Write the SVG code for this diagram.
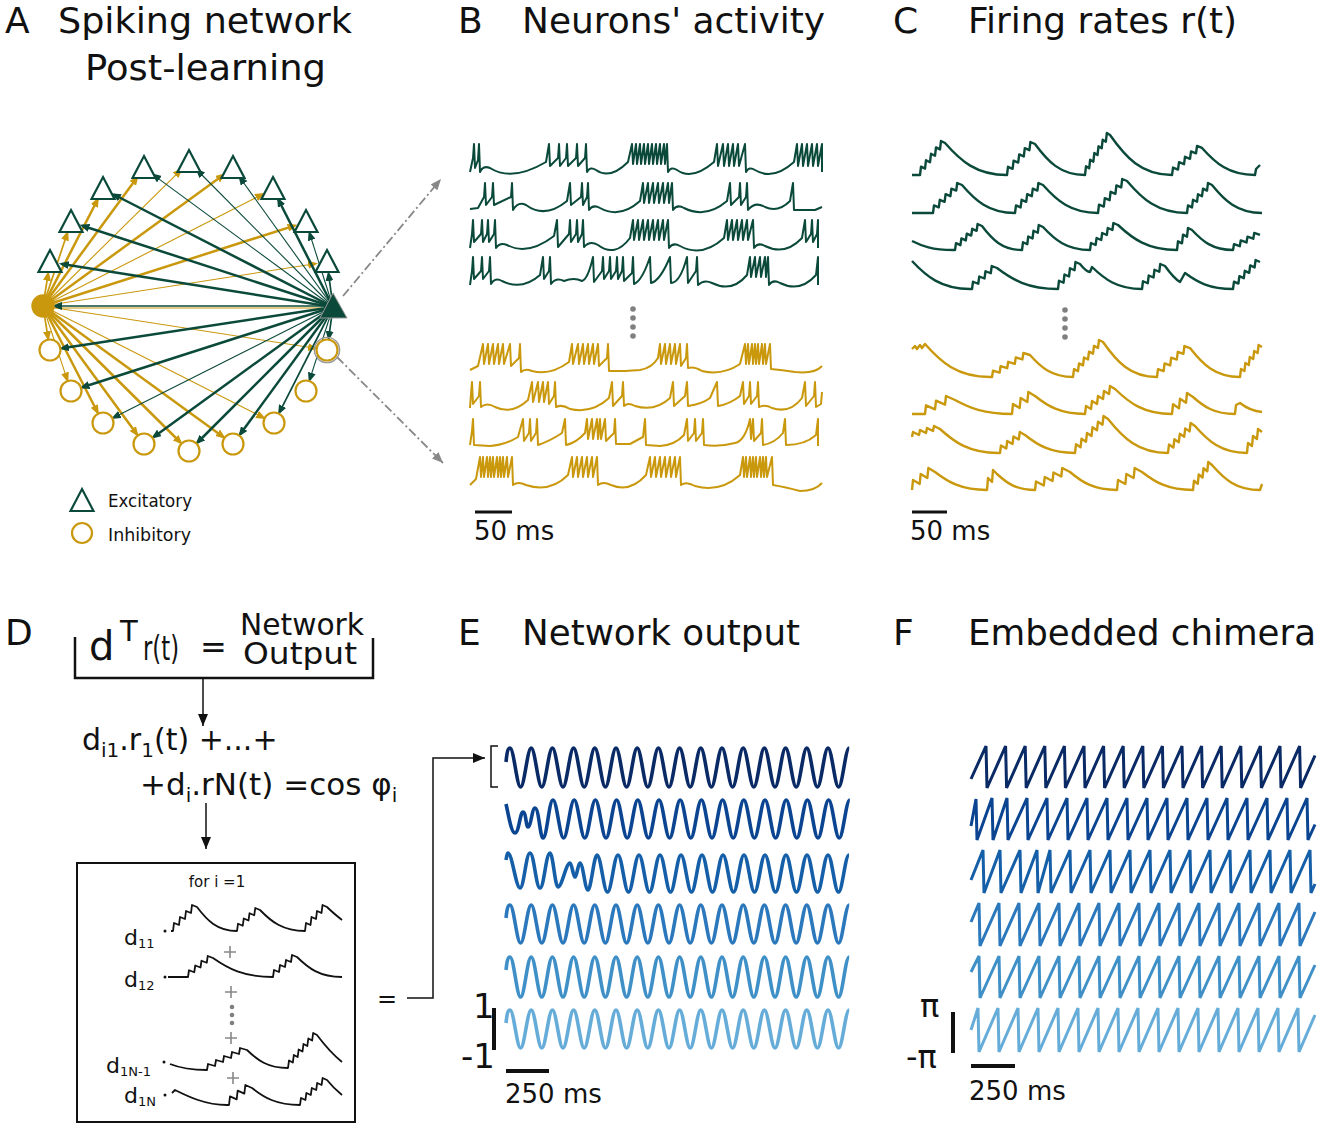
<svg xmlns="http://www.w3.org/2000/svg" width="1319" height="1127" viewBox="0 0 1319 1127">
<style>
.t{font-family:"DejaVu Sans",Verdana,sans-serif;fill:#111}
.ti{font-size:36px}
.g{stroke:#0b4a3b;fill:none}
.y{stroke:#c9980d;fill:none}
.k1{stroke-width:1.1}
.k2{stroke-width:1.7}
.k3{stroke-width:2.5}
.tri{fill:#fff;stroke:#0b4a3b;stroke-width:2.2}
.cir{fill:#fff;stroke:#c9980d;stroke-width:2.2}
.sp{fill:none;stroke-width:2;stroke-linejoin:round}
.rt{fill:none;stroke-width:2.4;stroke-linejoin:round}
.bk{fill:none;stroke:#111;stroke-width:1.8;stroke-linejoin:round}
.ew{fill:none;stroke-width:3.6}
.fw{fill:none;stroke-width:3;stroke-linejoin:miter}
.dot{fill:#808080}
</style>
<defs>
<marker id="mg" markerUnits="userSpaceOnUse" markerWidth="10" markerHeight="8" refX="7" refY="4" orient="auto"><path d="M0,0 L10,4 L0,8 Z" fill="#0b4a3b"/></marker>
<marker id="my" markerUnits="userSpaceOnUse" markerWidth="10" markerHeight="8" refX="7" refY="4" orient="auto"><path d="M0,0 L10,4 L0,8 Z" fill="#c9980d"/></marker>
<marker id="mk" markerUnits="userSpaceOnUse" markerWidth="11" markerHeight="9" refX="11" refY="4.5" orient="auto"><path d="M0,0 L11,4.5 L0,9 Z" fill="#888"/></marker>
<marker id="mb" markerUnits="userSpaceOnUse" markerWidth="12" markerHeight="10" refX="12" refY="5" orient="auto"><path d="M0,0 L12,5 L0,10 Z" fill="#111"/></marker>
<path id="tr" d="M0,-12 L11.5,10 L-11.5,10 Z"/>
</defs>

<!-- titles -->
<g class="t ti">
<text x="5" y="33">A</text><text x="58" y="33" textLength="294" lengthAdjust="spacingAndGlyphs">Spiking network</text><text x="85" y="80" textLength="241" lengthAdjust="spacingAndGlyphs">Post-learning</text>
<text x="458" y="33">B</text><text x="522" y="33" textLength="303" lengthAdjust="spacingAndGlyphs">Neurons' activity</text>
<text x="893" y="33">C</text><text x="968" y="33" textLength="269" lengthAdjust="spacingAndGlyphs">Firing rates r(t)</text>
<text x="5" y="645">D</text>
<text x="458" y="645">E</text><text x="522" y="645" textLength="278" lengthAdjust="spacingAndGlyphs">Network output</text>
<text x="893" y="645">F</text><text x="968" y="645" textLength="348" lengthAdjust="spacingAndGlyphs">Embedded chimera</text>
</g>

<!-- connectors -->
<g id="connectors">
<g class="y">
<line class="k2" x1="43" y1="306" x2="48.1" y2="273.8" marker-end="url(#my)"/>
<line class="k2" x1="43" y1="306" x2="67.2" y2="233.4" marker-end="url(#my)"/>
<line class="k3" x1="43" y1="306" x2="97.5" y2="199.7" marker-end="url(#my)"/>
<line class="k3" x1="43" y1="306" x2="136.9" y2="177.7" marker-end="url(#my)"/>
<line class="k1" x1="43" y1="306" x2="180.5" y2="170.4" marker-end="url(#my)"/>
<line class="k3" x1="43" y1="306" x2="223.3" y2="175.1" marker-end="url(#my)"/>
<line class="k1" x1="43" y1="306" x2="262.3" y2="194.4" marker-end="url(#my)"/>
<line class="k3" x1="43" y1="306" x2="294.6" y2="225.6" marker-end="url(#my)"/>
<line class="k1" x1="43" y1="306" x2="315.1" y2="263.8" marker-end="url(#my)"/>
<line class="k1" x1="43" y1="308" x2="322" y2="308"/>
<line class="k2" x1="43" y1="306" x2="48.1" y2="338.2" marker-end="url(#my)"/>
<line class="k1" x1="43" y1="306" x2="67.2" y2="379.6" marker-end="url(#my)"/>
<line class="k3" x1="43" y1="306" x2="97.5" y2="412.3" marker-end="url(#my)"/>
<line class="k3" x1="43" y1="306" x2="136.9" y2="434.3" marker-end="url(#my)"/>
<line class="k3" x1="43" y1="306" x2="180.5" y2="442.5" marker-end="url(#my)"/>
<line class="k3" x1="43" y1="306" x2="223.3" y2="436.9" marker-end="url(#my)"/>
<line class="k1" x1="43" y1="306" x2="263.3" y2="417.6" marker-end="url(#my)"/>
<line class="k1" x1="43" y1="306" x2="315.1" y2="348.2" marker-end="url(#my)"/>
</g>
<g class="g">
<line class="k3" x1="333" y1="307" x2="61.8" y2="263.9" marker-end="url(#mg)"/>
<line class="k3" x1="333" y1="307" x2="82.4" y2="225.7" marker-end="url(#mg)"/>
<line class="k3" x1="333" y1="307" x2="113.7" y2="194.5" marker-end="url(#mg)"/>
<line class="k1" x1="333" y1="307" x2="153.7" y2="175.1" marker-end="url(#mg)"/>
<line class="k1" x1="333" y1="307" x2="197.5" y2="170.5" marker-end="url(#mg)"/>
<line class="k1" x1="333" y1="307" x2="240" y2="177.7" marker-end="url(#mg)"/>
<line class="k3" x1="333" y1="307" x2="278.4" y2="199.7" marker-end="url(#mg)"/>
<line class="k1" x1="333" y1="307" x2="309.6" y2="233.4" marker-end="url(#mg)"/>
<line class="k2" x1="333" y1="307" x2="328.6" y2="273.9" marker-end="url(#mg)"/>
<line class="k2" x1="333" y1="306" x2="55" y2="306" marker-end="url(#mg)"/>
<line class="k3" x1="333" y1="307" x2="61.9" y2="348.2" marker-end="url(#mg)"/>
<line class="k3" x1="333" y1="307" x2="82.4" y2="387.3" marker-end="url(#mg)"/>
<line class="k1" x1="333" y1="307" x2="113.7" y2="417.6" marker-end="url(#mg)"/>
<line class="k3" x1="333" y1="307" x2="153.7" y2="437" marker-end="url(#mg)"/>
<line class="k3" x1="333" y1="307" x2="197.5" y2="442.5" marker-end="url(#mg)"/>
<line class="k3" x1="333" y1="307" x2="240.1" y2="434.3" marker-end="url(#mg)"/>
<line class="k2" x1="333" y1="307" x2="279.4" y2="412.3" marker-end="url(#mg)"/>
<line class="k1" x1="333" y1="307" x2="309.7" y2="379.6" marker-end="url(#mg)"/>
<line class="k2" x1="333" y1="307" x2="328.7" y2="338.1" marker-end="url(#mg)"/>
</g>
<line x1="343" y1="296" x2="441" y2="179" stroke="#888" stroke-width="1.8" stroke-dasharray="9,3,2,3" marker-end="url(#mk)"/>
<line x1="337" y1="357" x2="443" y2="463" stroke="#888" stroke-width="1.8" stroke-dasharray="9,3,2,3" marker-end="url(#mk)"/>
<line x1="203" y1="678" x2="203" y2="726" stroke="#111" stroke-width="1.5" marker-end="url(#mb)"/>
<line x1="206" y1="803" x2="206" y2="849" stroke="#111" stroke-width="1.5" marker-end="url(#mb)"/>
<path d="M407,998 H433 V758 H485" fill="none" stroke="#111" stroke-width="1.5" marker-end="url(#mb)"/>
</g>

<!-- nodes panel A -->
<g id="exc-nodes">
<g id="e1"><use href="#tr" class="tri" x="50" y="262"/></g>
<g id="e2"><use href="#tr" class="tri" x="71" y="222"/></g>
<g id="e3"><use href="#tr" class="tri" x="103" y="189"/></g>
<g id="e4"><use href="#tr" class="tri" x="144" y="168"/></g>
<g id="e5"><use href="#tr" class="tri" x="189" y="162"/></g>
<g id="e6"><use href="#tr" class="tri" x="233" y="168"/></g>
<g id="e7"><use href="#tr" class="tri" x="273" y="189"/></g>
<g id="e8"><use href="#tr" class="tri" x="306" y="222"/></g>
<g id="e9"><use href="#tr" class="tri" x="327" y="262"/></g>
<g id="e0"><path d="M333,293 L347,318 L320,318 Z" fill="#0b4a3b" stroke="#999" stroke-width="1"/></g>
</g>
<g id="inh-nodes">
<g id="i0"><circle cx="43" cy="306" r="11.7" fill="#c9980d"/></g>
<g id="i1"><circle class="cir" cx="50" cy="350" r="10.5"/></g>
<g id="i2"><circle class="cir" cx="71" cy="391" r="10.5"/></g>
<g id="i3"><circle class="cir" cx="103" cy="423" r="10.5"/></g>
<g id="i4"><circle class="cir" cx="144" cy="444" r="10.5"/></g>
<g id="i5"><circle class="cir" cx="189" cy="451" r="10.5"/></g>
<g id="i6"><circle class="cir" cx="233" cy="444" r="10.5"/></g>
<g id="i7"><circle class="cir" cx="274" cy="423" r="10.5"/></g>
<g id="i8"><circle class="cir" cx="306" cy="391" r="10.5"/></g>
<g id="i9"><circle class="cir" cx="327" cy="350" r="10.5"/><circle cx="327" cy="350" r="12.6" fill="none" stroke="#999" stroke-width="1.4"/></g>
</g>

<!-- legend -->
<g id="legend">
<path d="M82,489 L93.5,511 L70.5,511 Z" class="tri"/>
<text class="t" x="108" y="507" font-size="18" textLength="84" lengthAdjust="spacingAndGlyphs">Excitatory</text>
<circle class="cir" cx="82" cy="533" r="10"/>
<text class="t" x="108" y="541" font-size="18" textLength="83" lengthAdjust="spacingAndGlyphs">Inhibitory</text>
</g>

<!-- panel B spikes -->
<g id="panelB">
<g class="sp g">
<path transform="translate(470,144)" d="M0,28 L3,14 L4,0 L5,24 L8,16 L9,0 L10,28 Q13,21 20,24 Q42,38 76,18 L79,0 L80,22 L88,14 L89,0 L90,22 L96,14 L97,0 L98,22 L106,14 L107,0 L108,22 L115,14 L116,0 L117,28 Q120,22 126,26 Q140,36 158,18 L162,0 L163,20 L166,0 L167,20 L170,0 L171,20 L174,0 L175,20 L178,0 L179,20 L182,0 L183,20 L186,0 L187,20 L190,0 L191,20 L194,0 L195,20 L197,0 L198,28 Q201,22 207,26 Q222,37 244,18 L247,0 L248,22 L253,0 L254,22 L258,0 L259,22 L263,0 L264,22 L268,0 L269,22 L275,0 L276,28 Q279,22 285,26 Q303,37 324,18 L327,0 L328,22 L332,0 L333,22 L337,0 L338,22 L342,0 L343,22 L347,0 L348,22 L352,0 L352,28"/>
<path transform="translate(470,183)" d="M0,26 L8,25 L14,14 L15,0 L16,22 L22,14 L23,0 L24,22 L41,14 L42,0 L43,27 Q48,18 56,22 Q75,36 97,18 L100,0 L101,22 L111,14 L112,0 L113,22 L117,14 L118,0 L119,27 Q123,21 130,25 Q150,36 170,18 L173,0 L174,20 L178,0 L179,20 L183,0 L184,20 L188,0 L189,20 L193,0 L194,20 L198,0 L199,20 L202,0 L203,27 Q207,21 214,25 Q236,36 257,18 L260,0 L261,22 L269,14 L270,0 L271,22 L276,14 L277,0 L278,27 Q285,18 295,24 Q308,30 320,18 L323,0 L324,27 L345,27 L352,24"/>
<path transform="translate(470,220)" d="M0,28 L2,14 L3,0 L4,22 L11,14 L12,0 L13,22 L17,14 L18,0 L19,22 L24,14 L25,0 L26,28 Q30,22 37,25 Q58,36 84,16 L87,0 L88,27 L99,14 L100,0 L101,22 L106,14 L107,0 L108,22 L112,14 L113,0 L114,27 Q120,20 128,25 Q145,38 160,18 L163,0 L164,20 L168,0 L169,20 L173,0 L174,20 L178,0 L179,20 L183,0 L184,20 L188,0 L189,20 L193,0 L194,20 L198,0 L199,28 Q203,22 210,26 Q232,38 254,18 L257,0 L258,20 L262,0 L263,20 L267,0 L268,20 L272,0 L273,20 L277,0 L278,20 L283,0 L284,28 Q288,22 295,26 Q315,36 332,18 L335,0 L336,22 L341,14 L342,0 L343,22 L347,14 L348,0 L348,28"/>
<path transform="translate(470,257)" d="M0,28 L2,14 L3,0 L4,22 L11,14 L12,0 L13,22 L19,14 L20,0 L21,27 Q25,20 32,24 Q52,34 70,18 L73,0 L74,22 L79,14 L80,0 L81,27 Q86,20 94,24 Q104,20 112,24 Q118,22 123,0 L124,25 L132,14 L133,0 L134,22 L139,14 L140,0 L141,22 L146,14 L147,0 L148,22 L152,14 L153,0 L154,24 L162,16 L163,0 L164,27 Q172,24 180,0 L181,26 Q190,24 200,0 L201,26 Q210,26 217,0 L218,26 L226,14 L227,0 L228,28 Q234,22 242,26 Q262,36 277,18 L280,0 L281,20 L285,0 L286,20 L290,0 L291,20 L295,0 L296,20 L298,0 L299,28 Q303,22 310,26 Q330,36 346,18 L348,0 L348,28"/>
</g>
<g class="sp y">
<path transform="translate(470,344)" d="M0,26 L8,22 L13,0 L14,20 L18,0 L19,20 L23,0 L24,20 L28,0 L29,20 L33,0 L34,20 L40,0 L41,22 L49,14 L50,0 L51,28 Q55,24 62,27 Q80,32 99,18 L102,0 L103,20 L108,0 L109,20 L113,0 L114,20 L118,0 L119,20 L123,0 L124,20 L128,0 L129,22 L137,14 L138,0 L139,27 L155,27 L170,26 Q182,24 188,14 L190,0 L191,20 L195,0 L196,20 L200,0 L201,20 L205,0 L206,20 L210,0 L211,22 L216,14 L217,0 L218,24 Q224,22 232,27 Q252,32 270,20 L275,0 L276,20 L278,0 L279,20 L282,0 L283,20 L285,0 L286,20 L288,0 L289,20 L292,0 L293,20 L295,0 L296,20 L300,0 L301,25 Q312,26 325,28 Q345,30 352,22"/>
<path transform="translate(470,382)" d="M0,26 L1,12 L2,0 L3,22 L9,14 L10,0 L11,25 Q17,20 25,25 Q42,33 58,18 L62,0 L63,20 L68,0 L69,20 L73,0 L74,20 L78,0 L79,22 L84,14 L85,0 L86,25 Q92,22 100,27 Q122,32 139,16 L142,0 L143,24 L152,14 L153,0 L154,24 Q158,20 165,24 Q185,30 200,16 L203,0 L204,24 L215,14 L217,0 L218,24 Q232,22 240,16 L247,0 L248,24 Q260,22 270,14 L273,0 L274,22 L279,14 L280,0 L281,22 L287,14 L288,0 L289,25 Q295,22 302,26 Q320,32 332,16 L335,0 L336,24 L344,14 L345,0 L346,25 L351,22 L352,10"/>
<path transform="translate(470,419)" d="M0,26 L2,12 L3,0 L4,26 L20,27 Q35,26 48,18 L53,0 L54,22 L59,14 L60,0 L61,22 L66,14 L67,0 L68,26 Q80,22 92,14 L95,0 L96,26 Q106,24 115,14 L117,0 L118,20 L122,0 L123,20 L127,0 L128,20 L130,0 L131,20 L135,0 L136,22 L144,14 L145,0 L146,25 L160,25 L173,18 L175,0 L176,26 L190,27 Q205,26 214,16 L217,0 L218,22 L224,14 L225,0 L226,22 L232,14 L233,0 L234,26 Q250,28 265,24 Q275,22 280,0 L281,20 L283,0 L284,22 L291,14 L292,0 L293,26 Q305,24 313,14 L315,0 L316,26 Q335,26 346,16 L348,0 L348,27"/>
<path transform="translate(470,457)" d="M0,28 L6,22 L10,0 L11,20 L13,0 L14,20 L17,0 L18,20 L20,0 L21,20 L23,0 L24,20 L27,0 L28,20 L30,0 L31,20 L33,0 L34,20 L37,0 L38,20 L42,0 L43,28 Q48,24 56,28 Q80,36 98,18 L102,0 L103,20 L107,0 L108,20 L112,0 L113,20 L117,0 L118,20 L122,0 L123,20 L127,0 L128,28 Q133,24 141,28 Q160,36 176,18 L180,0 L181,20 L185,0 L186,20 L190,0 L191,20 L195,0 L196,20 L200,0 L201,20 L205,0 L206,20 L210,0 L211,28 Q216,24 225,29 Q250,36 270,18 L273,0 L274,20 L276,0 L277,20 L280,0 L281,20 L283,0 L284,20 L286,0 L287,20 L290,0 L291,20 L293,0 L294,20 L296,0 L297,20 L302,0 L303,28 Q315,30 330,34 Q345,34 352,26"/>
</g>
<circle class="dot" cx="633" cy="309" r="2.8"/><circle class="dot" cx="633" cy="318" r="2.8"/><circle class="dot" cx="633" cy="327" r="2.8"/><circle class="dot" cx="633" cy="336" r="2.8"/>
<line x1="475" y1="512" x2="512" y2="512" stroke="#111" stroke-width="3"/>
<text class="t" x="474" y="540" font-size="26">50 ms</text>
</g>

<!-- panel C rates -->
<g id="panelC">
<g class="rt g">
<path d="M912,175 h8 l1,-8.4 l4,2 l1,-8.4 l4,2 l1,-8.4 l4,2 l1,-8.4 l4,2 l1,-8.4 l4,2 c15.5,17.6 31,32 62,32 l1,-8.2 l4.6,2 l1,-8.2 l4.6,2 l1,-8.2 l4.6,2 l1,-8.2 l4.6,2 l1,-8.2 l4.6,2 c12.5,17 25,31 50,31 l1,-8.67 l3.17,2 l1,-8.67 l3.17,2 l1,-8.67 l3.17,2 l1,-8.67 l3.17,2 l1,-8.67 l3.17,2 l1,-8.67 l3.17,2 c15.5,22 31,40 62,40 l1,-7.4 l5,2 l1,-7.4 l5,2 l1,-7.4 l5,2 l1,-7.4 l5,2 l1,-7.4 l5,2 c13.25,14.85 26.5,27 53,27 l1,-6 l4,-4"/>
<path d="M912,213 h21 l1,-7.6 l4.8,2 l1,-7.6 l4.8,2 l1,-7.6 l4.8,2 l1,-7.6 l4.8,2 l1,-7.6 l4.8,2 c13.25,15.4 26.5,28 53,28 l1,-7.6 l4.6,2 l1,-7.6 l4.6,2 l1,-7.6 l4.6,2 l1,-7.6 l4.6,2 l1,-7.6 l4.6,2 c13.75,15.4 27.5,28 55,28 l1,-8.4 l4.8,2 l1,-8.4 l4.8,2 l1,-8.4 l4.8,2 l1,-8.4 l4.8,2 l1,-8.4 l4.8,2 c15,17.6 30,32 60,32 l1,-7.6 l4,2 l1,-7.6 l4,2 l1,-7.6 l4,2 l1,-7.6 l4,2 l1,-7.6 l4,2 c12.5,15.4 25,28 50,28"/>
<path d="M912,241 c10,5 20,9 41,9 h2 l1,-6.8 l4.4,2 l1,-6.8 l4.4,2 l1,-6.8 l4.4,2 l1,-6.8 l4.4,2 l1,-6.8 l4.4,2 c10,13.2 20,24 40,24 l1,-7.75 l4.25,2 l1,-7.75 l4.25,2 l1,-7.75 l4.25,2 l1,-7.75 l4.25,2 c11.75,12.65 23.5,23 47,23 l1,-7 l4.6,2 l1,-7 l4.6,2 l1,-7 l4.6,2 l1,-7 l4.6,2 l1,-7 l4.6,2 c14.75,13.75 29.5,25 59,25 l1,-8.67 l4,2 l1,-8.67 l4,2 l1,-8.67 l4,2 c10.25,11 20.5,20 41,20 l1,-5.75 l5.75,2 l1,-5.75 l5.75,2 l1,-5.75 l5.75,2 l1,-5.75 l5.75,2"/>
<path d="M912,261 c14,15 29,28 58,28 h2 l1,-7.25 l5.25,2 l1,-7.25 l5.25,2 l1,-7.25 l5.25,2 l1,-7.25 l5.25,2 c15.25,11.55 30.5,21 61,21 l1,-8.25 l4.5,2 l1,-8.25 l4.5,2 l1,-8.25 l4.5,2 l1,-8.25 l4.5,2 c4,5 8,8 10,8 l2,-5 c12.5,12 25,22 50,22 l1,-7.75 l4.75,2 l1,-7.75 l4.75,2 l1,-7.75 l4.75,2 l1,-7.75 l4.75,2 c5,7 10,13 15,16 l5,-9 c12,8.8 24,16 48,16 l1,-7.4 l4.4,2 l1,-7.4 l4.4,2 l1,-7.4 l4.4,2 l1,-7.4 l4.4,2 l1,-7.4 l4.4,2"/>
</g>
<g class="rt y">
<path d="M912,349 l3,-3 l2,3 l3,-4 l2,3 l3,-4 c16,18 32,33 65,33 h2 l1,-6.4 l6.6,2 l1,-6.4 l6.6,2 l1,-6.4 l6.6,2 l1,-6.4 l6.6,2 l1,-6.4 l6.6,2 c10.75,12.1 21.5,22 43,22 l1,-7.83 l4,2 l1,-7.83 l4,2 l1,-7.83 l4,2 l1,-7.83 l4,2 l1,-7.83 l4,2 l1,-7.83 l4,2 c13.5,19.25 27,35 54,35 l1,-7.8 l5.6,2 l1,-7.8 l5.6,2 l1,-7.8 l5.6,2 l1,-7.8 l5.6,2 l1,-7.8 l5.6,2 c12.5,16 25,29 50,29 l1,-8 l3.4,2 l1,-8 l3.4,2 l1,-8 l3.4,2 l1,-8 l3.4,2 l1,-8 l3.4,2"/>
<path d="M912,414 h13 l1,-8.67 l9,4 l1,-8.67 l9,4 l1,-8.67 l9,4 c14.25,7.7 28.5,14 57,14 l1,-10 l6.67,4 l1,-10 l6.67,4 l1,-10 l6.67,4 c12.5,9.9 25,18 50,18 l1,-8 l5,3 l1,-8 l5,3 l1,-8 l5,3 l1,-8 l5,3 l1,-8 l5,3 c14.25,13.75 28.5,25 57,25 l1,-9.67 l6,4 l1,-9.67 l6,4 l1,-9.67 l6,4 c10.5,9.35 21,17 42,17 l1,-9 l4,-2 c5,4 12,8 22,9"/>
<path d="M912,437 l1,-5 l6,3 l1,-5 l6,3 l1,-5 l6,3 l1,-5 l6,3 c14.5,13.2 29,24 58,24 h2 l1,-7.5 l5.25,3 l1,-7.5 l5.25,3 l1,-7.5 l5.25,3 l1,-7.5 l5.25,3 c12.5,9.9 25,18 50,18 l1,-8.67 l4.5,3 l1,-8.67 l4.5,3 l1,-8.67 l4.5,3 l1,-8.67 l4.5,3 l1,-8.67 l4.5,3 l1,-8.67 l4.5,3 c15,18.7 30,34 60,34 l1,-8.4 l4.4,3 l1,-8.4 l4.4,3 l1,-8.4 l4.4,3 l1,-8.4 l4.4,3 l1,-8.4 l4.4,3 c13,14.85 26,27 52,27 l1,-10 l4,3 l1,-10 l4,3 l1,-10 l4,3"/>
<path d="M912,490 l1,-10 l6.67,4 l1,-10 l6.67,4 l1,-10 l6.67,4 c13,9.9 26,18 52,18 l1,-12 l4,4 l1,-12 l4,4 c9.5,8.8 19,16 38,16 l1,-8.5 l7.75,4 l1,-8.5 l7.75,4 l1,-8.5 l7.75,4 l1,-8.5 l7.75,4 c11.75,9.9 23.5,18 47,18 l1,-10 l7.33,4 l1,-10 l7.33,4 l1,-10 l7.33,4 c12.75,9.9 25.5,18 51,18 l1,-9.25 l3.75,3 l1,-9.25 l3.75,3 l1,-9.25 l3.75,3 l1,-9.25 l3.75,3 c12,13.75 24,25 48,25 l2,-6"/>
</g>
<circle class="dot" cx="1065" cy="310" r="2.8"/><circle class="dot" cx="1065" cy="319" r="2.8"/><circle class="dot" cx="1065" cy="328" r="2.8"/><circle class="dot" cx="1065" cy="337" r="2.8"/>
<line x1="912" y1="512" x2="947" y2="512" stroke="#111" stroke-width="3"/>
<text class="t" x="910" y="540" font-size="26">50 ms</text>
</g>

<!-- panel D -->
<g id="panelD">
<path d="M75,637 V678 H373 V638" fill="none" stroke="#111" stroke-width="2.5"/>
<text class="t" x="89" y="660" font-size="40">d</text>
<text class="t" x="120" y="641" font-size="29">T</text>
<text class="t" x="143" y="660" font-size="34" textLength="36" lengthAdjust="spacingAndGlyphs">r(t)</text>
<text class="t" x="200" y="658" font-size="32">=</text>
<text class="t" font-size="30"><tspan x="240" y="635" textLength="124" lengthAdjust="spacingAndGlyphs">Network</tspan><tspan x="243" y="664" font-size="31" textLength="114" lengthAdjust="spacingAndGlyphs">Output</tspan></text>
<text class="t" x="82" y="750" font-size="30">d<tspan font-size="20" dy="7">i1</tspan><tspan dy="-7">.r</tspan><tspan font-size="20" dy="7">1</tspan><tspan dy="-7">(t) +...+</tspan></text>
<text class="t" x="140" y="795" font-size="31">+d<tspan font-size="20" dy="7">i</tspan><tspan dy="-7">.rN(t) =cos φ</tspan><tspan font-size="20" dy="7">i</tspan></text>
<g id="sumbox">
<rect x="77" y="863" width="278" height="259" fill="none" stroke="#111" stroke-width="2"/>
<text class="t" x="217" y="887" font-size="15" text-anchor="middle">for i =1</text>
<path class="bk" d="M171,931 h2 l1,-8 l5,2 l1,-8 l5,2 l1,-8 l5,2 l1,-8 l5,2 c10,13.2 20,24 40,24 l1,-7.25 l4.75,2 l1,-7.25 l4.75,2 l1,-7.25 l4.75,2 l1,-7.25 l4.75,2 c11.25,11.55 22.5,21 45,21 l1,-8 l4.5,2 l1,-8 l4.5,2 l1,-8 l4.5,2 l1,-8 l4.5,2 c4,4 10,9 15,13"/>
<path class="bk" d="M168,977 h20 l1,-6.75 l5.25,2 l1,-6.75 l5.25,2 l1,-6.75 l5.25,2 l1,-6.75 l5.25,2 c15,10.45 30,19 60,19 l1,-7 l5,2 l1,-7 l5,2 l1,-7 l5,2 l1,-7 l5,2 c11.25,11 22.5,20 45,20"/>
<path class="bk" d="M170,1064 c10,4 22,6 37,6 l1,-6 l7,2 l1,-6 l7,2 l1,-6 l7,2 l1,-6 l7,2 l1,-6 l7,2 c10.25,9.9 20.5,18 41,18 l1,-7.5 l3.83,2 l1,-7.5 l3.83,2 l1,-7.5 l3.83,2 l1,-7.5 l3.83,2 l1,-7.5 l3.83,2 l1,-7.5 l3.83,2 c6,8 14,18 25,27"/>
<path class="bk" d="M172,1093 l3,-3 c12,6 30,15 52,15 h2 l1,-8.67 l6.67,3 l1,-8.67 l6.67,3 l1,-8.67 l6.67,3 c12,9.35 24,17 48,17 l1,-7 l4.4,2 l1,-7 l4.4,2 l1,-7 l4.4,2 l1,-7 l4.4,2 l1,-7 l4.4,2 c4,5 10,11 15,15"/>
<text class="t" x="124" y="945" font-size="22">d<tspan font-size="13" dy="3">11</tspan></text>
<text class="t" x="124" y="987" font-size="22">d<tspan font-size="13" dy="3">12</tspan></text>
<text class="t" x="106" y="1073" font-size="22">d<tspan font-size="13" dy="3">1N-1</tspan></text>
<text class="t" x="124" y="1103" font-size="22">d<tspan font-size="13" dy="3">1N</tspan></text>
<circle cx="165" cy="931" r="1.5" fill="#111"/><circle cx="165" cy="977" r="1.5" fill="#111"/><circle cx="164" cy="1062" r="1.5" fill="#111"/><circle cx="165" cy="1095" r="1.5" fill="#111"/>
<g stroke="#888" stroke-width="1.6"><path d="M224,952 h12 M230,946 v12 M225,992 h12 M231,986 v12 M225,1038 h12 M231,1032 v12 M227,1078 h12 M233,1072 v12"/></g>
<circle class="dot" cx="232" cy="1007" r="2.3"/><circle class="dot" cx="232" cy="1015" r="2.3"/><circle class="dot" cx="232" cy="1023" r="2.3"/>
</g>
<text class="t" x="377" y="1007" font-size="24">=</text>
</g>

<!-- panel E -->
<g id="panelE">
<path d="M498,746 H491 V787 H498" fill="none" stroke="#111" stroke-width="1.5"/>
<path class="ew" stroke="#0a2a66" d="M506,762 C507,752 508,748 510,748 c3.8,0 6.8,39 10.6,39 s6.8,-39 10.6,-39
 s6.8,39 10.6,39 s6.8,-39 10.6,-39 s6.8,39 10.6,39 s6.8,-39 10.6,-39 s6.8,39 10.6,39 s6.8,-39 10.6,-39 s6.8,39 10.6,39 s6.8,-39 10.6,-39 s6.8,39 10.6,39 s6.8,-39 10.6,-39
 s6.8,39 10.6,39 s6.8,-39 10.6,-39 s6.8,39 10.6,39 s6.8,-39 10.6,-39 s6.8,39 10.6,39 s6.8,-39 10.6,-39 s6.8,39 10.6,39 s6.8,-39 10.6,-39 s6.8,39 10.6,39 s6.8,-39 10.6,-39
 s6.8,39 10.6,39 s6.8,-39 10.6,-39 s6.8,39 10.6,39 s6.8,-39 10.6,-39 s6.8,39 10.6,39 s6.8,-39 10.6,-39 s6.8,39 10.6,39 s6.8,-39 10.6,-39 s6.8,39 10.6,39 s6.8,-39 10.6,-39"/>
<path class="ew" stroke="#0b4591" d="M506,804 C508,812 511,833 515,833 C519,833 520,812 523,812 C526,812 526,827 528,827 C531,827 532,808 535,808 C539,808 540,838 543,838 C547,838 549,800 553,800 c3.8,0 6.8,38 10.6,38 s6.8,-38 10.6,-38 s6.8,38 10.6,38 s6.8,-38 10.6,-38 s6.8,38 10.6,38 s6.8,-38 10.6,-38 s6.8,38 10.6,38 s6.8,-38 10.6,-38 s6.8,38 10.6,38 s6.8,-38 10.6,-38 s6.8,38 10.6,38 s6.8,-38 10.6,-38 s6.8,38 10.6,38 s6.8,-38 10.6,-38 s6.8,38 10.6,38 s6.8,-38 10.6,-38 s6.8,38 10.6,38 s6.8,-38 10.6,-38 s6.8,38 10.6,38 s6.8,-38 10.6,-38 s6.8,38 10.6,38 s6.8,-38 10.6,-38 s6.8,38 10.6,38 s6.8,-38 10.6,-38 s6.8,38 10.6,38 s6.8,-38 10.6,-38 s6.8,38 10.6,38 s6.8,-38 10.6,-38"/>
<path class="ew" stroke="#155fa8" d="M506,860 C507,855 507,853 508,853 C512,853 516,888 520,888 C524,888 526,853 530,853 C534,853 536,888 540,888 C544,888 546,853 550,853 C553,853 555,887 558,887 C562,887 566,863 570,863 C572,863 573,877 575,877 C577,877 578,863 580,863 C583,863 585,890 588,890 C591,890 594,855 597,855 c3.8,0 6.7,37 10.5,37 s6.7,-37 10.5,-37 s6.7,37 10.5,37 s6.7,-37 10.5,-37 s6.7,37 10.5,37 s6.7,-37 10.5,-37 s6.7,37 10.5,37 s6.7,-37 10.5,-37 s6.7,37 10.5,37 s6.7,-37 10.5,-37 s6.7,37 10.5,37 s6.7,-37 10.5,-37 s6.7,37 10.5,37 s6.7,-37 10.5,-37 s6.7,37 10.5,37 s6.7,-37 10.5,-37 s6.7,37 10.5,37 s6.7,-37 10.5,-37 s6.7,37 10.5,37 s6.7,-37 10.5,-37 s6.7,37 10.5,37 s6.7,-37 10.5,-37 s6.7,37 10.5,37 s6.7,-37 10.5,-37"/>
<path class="ew" stroke="#2b78bc" d="M506,918 C507,909 508,905 510,905 c3.8,0 6.8,38 10.6,38 s6.8,-38 10.6,-38 s6.8,38 10.6,38 s6.8,-38 10.6,-38 s6.8,38 10.6,38 s6.8,-38 10.6,-38 s6.8,38 10.6,38 s6.8,-38 10.6,-38 s6.8,38 10.6,38 s6.8,-38 10.6,-38 s6.8,38 10.6,38 s6.8,-38 10.6,-38 s6.8,38 10.6,38 s6.8,-38 10.6,-38 s6.8,38 10.6,38 s6.8,-38 10.6,-38 s6.8,38 10.6,38 s6.8,-38 10.6,-38 s6.8,38 10.6,38 s6.8,-38 10.6,-38 s6.8,38 10.6,38 s6.8,-38 10.6,-38 s6.8,38 10.6,38 s6.8,-38 10.6,-38 s6.8,38 10.6,38 s6.8,-38 10.6,-38 s6.8,38 10.6,38 s6.8,-38 10.6,-38 s6.8,38 10.6,38 s6.8,-38 10.6,-38 s6.8,38 10.6,38 s6.8,-38 10.6,-38"/>
<path class="ew" stroke="#4090c8" d="M506,970 C507,961 508,957 510,957 c3.8,0 6.8,40 10.6,40 s6.8,-40 10.6,-40 s6.8,40 10.6,40 s6.8,-40 10.6,-40 s6.8,40 10.6,40 s6.8,-40 10.6,-40 s6.8,40 10.6,40 s6.8,-40 10.6,-40 s6.8,40 10.6,40 s6.8,-40 10.6,-40 s6.8,40 10.6,40 s6.8,-40 10.6,-40 s6.8,40 10.6,40 s6.8,-40 10.6,-40 s6.8,40 10.6,40 s6.8,-40 10.6,-40 s6.8,40 10.6,40 s6.8,-40 10.6,-40 s6.8,40 10.6,40 s6.8,-40 10.6,-40 s6.8,40 10.6,40 s6.8,-40 10.6,-40 s6.8,40 10.6,40 s6.8,-40 10.6,-40 s6.8,40 10.6,40 s6.8,-40 10.6,-40 s6.8,40 10.6,40 s6.8,-40 10.6,-40 s6.8,40 10.6,40 s6.8,-40 10.6,-40 s6.8,40 10.6,40 s6.8,-40 10.6,-40"/>
<path class="ew" stroke="#66acd8" d="M506,1023 C507,1014 508,1010 510,1010 c3.8,0 6.8,38 10.6,38 s6.8,-38 10.6,-38 s6.8,38 10.6,38 s6.8,-38 10.6,-38 s6.8,38 10.6,38 s6.8,-38 10.6,-38 s6.8,38 10.6,38 s6.8,-38 10.6,-38 s6.8,38 10.6,38 s6.8,-38 10.6,-38 s6.8,38 10.6,38 s6.8,-38 10.6,-38 s6.8,38 10.6,38 s6.8,-38 10.6,-38 s6.8,38 10.6,38 s6.8,-38 10.6,-38 s6.8,38 10.6,38 s6.8,-38 10.6,-38 s6.8,38 10.6,38 s6.8,-38 10.6,-38 s6.8,38 10.6,38 s6.8,-38 10.6,-38 s6.8,38 10.6,38 s6.8,-38 10.6,-38 s6.8,38 10.6,38 s6.8,-38 10.6,-38 s6.8,38 10.6,38 s6.8,-38 10.6,-38 s6.8,38 10.6,38 s6.8,-38 10.6,-38 s6.8,38 10.6,38 s6.8,-38 10.6,-38"/>
<line x1="494" y1="1008" x2="494" y2="1050" stroke="#111" stroke-width="4"/>
<text class="t" x="473" y="1018" font-size="34">1</text>
<text class="t" x="461" y="1068" font-size="34">-1</text>
<line x1="506" y1="1071" x2="549" y2="1071" stroke="#111" stroke-width="4"/>
<text class="t" x="505" y="1103" font-size="26">250 ms</text>
</g>

<!-- panel F -->
<g id="panelF">
<path class="fw" stroke="#0a2a66" d="M971,779 L986,746 l1,42 l18.6,-42 l1,42 l18.6,-42 l1,42 l18.6,-42 l1,42 l18.6,-42 l1,42 l18.6,-42 l1,42 l18.6,-42 l1,42 l18.6,-42 l1,42 l18.6,-42 l1,42 l18.6,-42 l1,42 l18.6,-42 l1,42 l18.6,-42 l1,42 l18.6,-42 l1,42 l18.6,-42 l1,42 l18.6,-42 l1,42 l18.6,-42 l1,42 l18.6,-42 l1,42 l14.4,-32.5"/>
<path class="fw" stroke="#0b4591" d="M971,826 L976,799 l1,41 L992,798 l1,42 L1007,798 l1,42 l19,-42 l1,42 l19,-42 l1,42 l19,-42 l1,42 l19,-42 l1,42 l19,-42 l1,42 l19,-42 l1,42 l19,-42 l1,42 l19,-42 l1,42 l19,-42 l1,42 l19,-42 l1,42 l19,-42 l1,42 l19,-42 l1,42 l19,-42 l1,42 l19,-42 l1,42 l19,-42 l1,42 l7,-15.5"/>
<path class="fw" stroke="#155fa8" d="M971,880 L983,850 l1,43 L1000,850 l1,43 L1020,850 l1,43 L1037,850 l1,43 L1050,850 l1,43 l19,-43 l1,43 l19,-43 l1,43 l19,-43 l1,43 l19,-43 l1,43 l19,-43 l1,43 l19,-43 l1,43 l19,-43 l1,43 l19,-43 l1,43 l19,-43 l1,43 l19,-43 l1,43 l19,-43 l1,43 l19,-43 l1,43 l19,-43 l1,43 l4,-9"/>
<path class="fw" stroke="#2b78bc" d="M971,922 L979,903 l1,43 l19,-43 l1,43 l19,-43 l1,43 l19,-43 l1,43 l19,-43 l1,43 l19,-43 l1,43 l19,-43 l1,43 l19,-43 l1,43 l19,-43 l1,43 l19,-43 l1,43 l19,-43 l1,43 l19,-43 l1,43 l19,-43 l1,43 l19,-43 l1,43 l19,-43 l1,43 l19,-43 l1,43 l19,-43 l1,43 l15,-34"/>
<path class="fw" stroke="#4090c8" d="M971,972 L979,956 l1,42 l19,-42 l1,42 l19,-42 l1,42 l19,-42 l1,42 l19,-42 l1,42 l19,-42 l1,42 l19,-42 l1,42 l19,-42 l1,42 l19,-42 l1,42 l19,-42 l1,42 l19,-42 l1,42 l19,-42 l1,42 l19,-42 l1,42 l19,-42 l1,42 l19,-42 l1,42 l19,-42 l1,42 l19,-42 l1,42 l15,-33"/>
<path class="fw" stroke="#66acd8" d="M971,1030 L978,1008 l1,44 l19,-44 l1,44 l19,-44 l1,44 l19,-44 l1,44 l19,-44 l1,44 l19,-44 l1,44 l19,-44 l1,44 l19,-44 l1,44 l19,-44 l1,44 l19,-44 l1,44 l19,-44 l1,44 l19,-44 l1,44 l19,-44 l1,44 l19,-44 l1,44 l19,-44 l1,44 l19,-44 l1,44 l19,-44 l1,44 l16,-37"/>
<line x1="953" y1="1012" x2="953" y2="1053" stroke="#111" stroke-width="4"/>
<text class="t" x="920" y="1017" font-size="32">π</text>
<text class="t" x="906" y="1068" font-size="32">-π</text>
<line x1="971" y1="1066" x2="1015" y2="1066" stroke="#111" stroke-width="4"/>
<text class="t" x="969" y="1100" font-size="26">250 ms</text>
</g>
</svg>
